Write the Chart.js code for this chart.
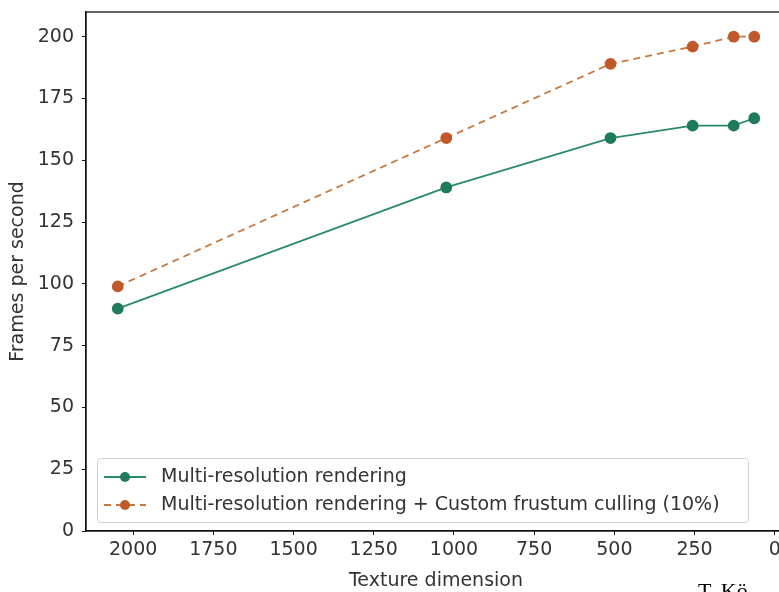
<!DOCTYPE html>
<html>
<head>
<meta charset="utf-8">
<script src="https://cdn.jsdelivr.net/npm/chart.js@4"></script>
<style>
	html, body { margin: 0; padding: 0; background: #fff; overflow: hidden; }
	#chart { position: absolute; left: 0; top: 0; }
</style>
</head>
<body>
<canvas id="chart" width="800" height="592"></canvas>
<script>
// data
const textureSizes = [2048, 1024, 512, 256, 128, 64];
const multiRes = [90, 139, 159, 164, 164, 167];
const multiResCulling = [99, 159, 189, 196, 200, 200];
const xTicks = [2000, 1750, 1500, 1250, 1000, 750, 500, 250, 0];
const yTicks = [0, 25, 50, 75, 100, 125, 150, 175, 200];

const labelMulti = "Multi-resolution rendering";
const labelCulling = "Multi-resolution rendering + Custom frustum culling (10%)";

const fontFamily = "'DejaVu Sans', sans-serif";
const fontSize = 19;
const textColor = "#333";

function toPoints(xs, ys) {
	return xs.map((x, i) => ({ x: x, y: ys[i] }));
}

// full frame round the plot, like matplotlib spines
const frame = {
	id: "frame",
	afterDatasetsDraw(chart) {
		const a = chart.chartArea;
		const ctx = chart.ctx;
		ctx.save();
		ctx.strokeStyle = "#111";
		ctx.lineWidth = 1.3;
		ctx.strokeRect(a.left, a.top, a.right - a.left, a.bottom - a.top);
		ctx.restore();
	}
};

// legend inside the plot, lower left
const innerLegend = {
	id: "innerLegend",
	afterDraw(chart) {
		const ctx = chart.ctx;
		const x0 = 97, y0 = 458, w = 651, h = 64;
		ctx.save();
		ctx.fillStyle = "rgba(255,255,255,0.85)";
		ctx.strokeStyle = "#d0d0d0";
		ctx.lineWidth = 1;
		ctx.beginPath();
		ctx.roundRect(x0 + 0.5, y0 + 0.5, w, h, 3);
		ctx.fill();
		ctx.stroke();
		chart.data.datasets.forEach((ds, i) => {
			const cy = 477 + i * 28;
			ctx.strokeStyle = ds.borderColor;
			ctx.lineWidth = ds.borderWidth;
			ctx.setLineDash(ds.borderDash || []);
			ctx.beginPath();
			ctx.moveTo(104, cy);
			ctx.lineTo(146, cy);
			ctx.stroke();
			ctx.setLineDash([]);
			ctx.fillStyle = ds.pointBackgroundColor;
			ctx.beginPath();
			ctx.arc(125, cy, 5, 0, Math.PI * 2);
			ctx.fill();
			ctx.fillStyle = textColor;
			ctx.font = fontSize + "px " + fontFamily;
			ctx.textBaseline = "middle";
			ctx.textAlign = "left";
			ctx.fillText(ds.label, 161, cy);
		});
		// cut-off caption at the bottom right
		ctx.fillStyle = "#000";
		ctx.font = "22px 'Liberation Serif', serif";
		ctx.textBaseline = "alphabetic";
		ctx.fillText("T. Kö", 698, 598);
		ctx.restore();
	}
};

new Chart(document.getElementById("chart"), {
	type: "line",
	data: {
		datasets: [
			{
				label: labelMulti,
				data: toPoints(textureSizes, multiRes),
				borderColor: "#2a8a6a",
				borderWidth: 1.8,
				pointBackgroundColor: "#1e7b5c",
				pointBorderColor: "#1e7b5c",
				pointRadius: 5,
				tension: 0
			},
			{
				label: labelCulling,
				data: toPoints(textureSizes, multiResCulling),
				borderColor: "#c8773f",
				borderWidth: 1.8,
				borderDash: [7, 5],
				pointBackgroundColor: "#c0582a",
				pointBorderColor: "#c0582a",
				pointRadius: 5,
				tension: 0
			}
		]
	},
	options: {
		responsive: false,
		animation: false,
		layout: {
			padding: { left: 0, right: 14, top: 12, bottom: 0 }
		},
		plugins: {
			legend: { display: false },
			tooltip: { enabled: false }
		},
		scales: {
			x: {
				type: "linear",
				reverse: true,
				min: -35,
				max: 2147,
				afterBuildTicks(scale) {
					scale.ticks = xTicks.map(v => ({ value: v }));
				},
				afterFit(scale) {
					scale.height = 61;
					scale.paddingLeft = 0;
					scale.paddingRight = 0;
				},
				grid: {
					display: true,
					drawOnChartArea: false,
					drawTicks: true,
					tickLength: 4,
					color: "#111"
				},
				border: { display: true, color: "#111", width: 1.3 },
				ticks: {
					color: textColor,
					font: { family: fontFamily, size: fontSize },
					padding: 4,
					maxRotation: 0,
					autoSkip: false,
					callback: v => String(v)
				},
				title: {
					display: true,
					text: "Texture dimension",
					color: textColor,
					font: { family: fontFamily, size: fontSize },
					padding: { top: 2, bottom: 0 }
				}
			},
			y: {
				type: "linear",
				min: 0,
				max: 210,
				afterBuildTicks(scale) {
					scale.ticks = yTicks.map(v => ({ value: v }));
				},
				afterFit(scale) {
					scale.width = 86;
					scale.paddingTop = 0;
					scale.paddingBottom = 0;
				},
				grid: {
					display: true,
					drawOnChartArea: false,
					drawTicks: true,
					tickLength: 4,
					color: "#111"
				},
				border: { display: true, color: "#111", width: 1.3 },
				ticks: {
					color: textColor,
					font: { family: fontFamily, size: fontSize },
					padding: 8,
					callback: v => String(v)
				},
				title: {
					display: true,
					text: "Frames per second",
					color: textColor,
					font: { family: fontFamily, size: fontSize },
					padding: { top: 7, bottom: 0 }
				}
			}
		}
	},
	plugins: [frame, innerLegend]
});
</script>
</body>
</html>
